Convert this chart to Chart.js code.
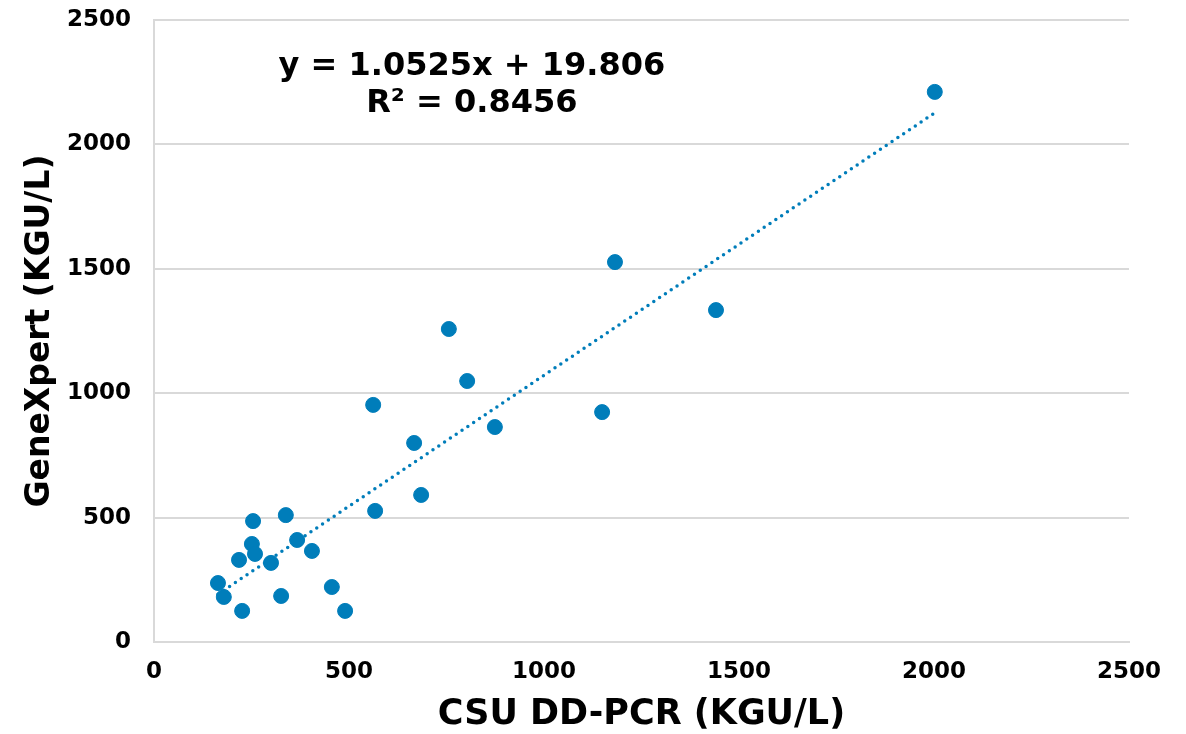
<!DOCTYPE html>
<html>
<head>
<meta charset="utf-8">
<script src="https://cdn.jsdelivr.net/npm/chart.js@4/dist/chart.umd.min.js"></script>
<style>
html,body{margin:0;padding:0;background:#fff;}
#wrap{width:1186px;height:734px;}
</style>
</head>
<body>
<div id="wrap"><canvas id="c" width="1186" height="734"></canvas></div>
<script>
// Data
const csuDDPCR = [2002,1182,1441,756,803,562,1149,874,667,685,567,338,254,367,251,405,259,218,300,164,456,179,326,226,490];
const geneXpert = [2211,1527,1334,1258,1049,953,924,864,800,591,527,510,486,410,394,366,354,330,318,237,221,181,185,125,125];
const trendX = [164, 2002];
const trendY = [192, 2127];
const equationLines = ['y = 1.0525x + 19.806', 'R\u00B2 = 0.8456'];
const equationAt = {x: 815, y: [2311, 2162]};
const xTitle = 'CSU DD-PCR (KGU/L)';
const yTitle = 'GeneXpert (KGU/L)';
const axisMin = 0, axisMax = 2500, axisStep = 500;

const blue = '#007DBA';
const FONT = "'DejaVu Sans', Verdana, sans-serif";

const points = csuDDPCR.map((x, i) => ({x, y: geneXpert[i]}));
const trend = trendX.map((x, i) => ({x, y: trendY[i]}));

const equationPlugin = {
  id: 'equation',
  afterDatasetsDraw(chart) {
    const {ctx, scales} = chart;
    ctx.save();
    ctx.fillStyle = '#000';
    ctx.font = "bold 32px " + FONT;
    ctx.textAlign = 'center';
    ctx.textBaseline = 'middle';
    equationLines.forEach((t, i) => {
      ctx.fillText(t, scales.x.getPixelForValue(equationAt.x), scales.y.getPixelForValue(equationAt.y[i]));
    });
    ctx.restore();
  }
};

const plainTick = (v) => String(v);

new Chart(document.getElementById('c'), {
  type: 'scatter',
  data: {
    datasets: [
      {
        type: 'line',
        data: trend,
        borderColor: blue,
        borderWidth: 3.5,
        borderDash: [0, 7],
        borderCapStyle: 'round',
        pointRadius: 0,
        fill: false,
        order: 2
      },
      {
        data: points,
        backgroundColor: blue,
        borderColor: blue,
        pointRadius: 7.5,
        pointHoverRadius: 7.5,
        order: 1
      }
    ]
  },
  options: {
    responsive: false,
    animation: false,
    layout: {padding: {top: 20, right: 57, bottom: 0, left: 0}},
    plugins: {legend: {display: false}, tooltip: {enabled: false}},
    scales: {
      x: {
        type: 'linear', min: axisMin, max: axisMax,
        ticks: {stepSize: axisStep, callback: plainTick, color: '#000', font: {family: FONT, size: 23, weight: 'bold'}, padding: 16, maxRotation: 0},
        grid: {display: false, drawTicks: false},
        border: {display: true, color: '#d9d9d9', width: 2},
        title: {display: true, text: xTitle, color: '#000', font: {family: FONT, size: 35, weight: 'bold', lineHeight: 1.1}, padding: {top: 0, bottom: 0}},
        afterFit(s) { s.height = 92; s.paddingLeft = 0; s.paddingRight = 0; }
      },
      y: {
        type: 'linear', min: axisMin, max: axisMax,
        ticks: {stepSize: axisStep, callback: plainTick, color: '#000', font: {family: FONT, size: 23, weight: 'bold'}, padding: 23},
        grid: {color: '#d9d9d9', lineWidth: 2, drawTicks: false},
        border: {display: true, color: '#d9d9d9', width: 2},
        title: {display: true, text: yTitle, color: '#000', font: {family: FONT, size: 33, weight: 'bold'}, padding: {top: 21, bottom: 0}},
        afterFit(s) { s.width = 154; s.paddingTop = 0; s.paddingBottom = 0; }
      }
    }
  },
  plugins: [equationPlugin]
});
</script>
</body>
</html>
